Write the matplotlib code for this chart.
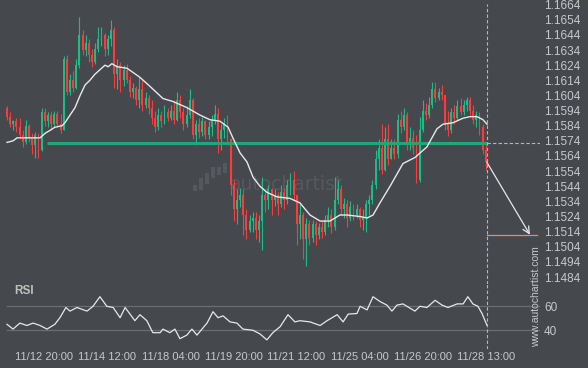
import matplotlib
matplotlib.use("Agg")
import matplotlib.pyplot as plt
from matplotlib.patches import Rectangle
import numpy as np

plt.rcParams['font.family'] = ['Liberation Sans', 'DejaVu Sans']

# ---------------- data (2-hour candles) ----------------
first_open = 1.1596
closes = [
    1.1590, 1.1585, 1.1587, 1.1583, 1.1578, 1.1573, 1.1584, 1.1576, 1.1571, 1.1578,
    1.1568, 1.1593, 1.1587, 1.1591, 1.1585, 1.1592, 1.1585, 1.1581, 1.1628, 1.1606,
    1.1614, 1.1609, 1.1624, 1.1644, 1.1634, 1.1639, 1.1631, 1.1626, 1.1635, 1.1641,
    1.1644, 1.1635, 1.1641, 1.1647, 1.1618, 1.1624, 1.1614, 1.1621, 1.1614, 1.1606,
    1.1609, 1.1601, 1.1608, 1.1598, 1.1602, 1.1596, 1.1589, 1.1583, 1.1591, 1.1587,
    1.1593, 1.1589, 1.1594, 1.1588, 1.1601, 1.1593, 1.1585, 1.1591, 1.1601, 1.1578,
    1.1585, 1.1580, 1.1587, 1.1578, 1.1583, 1.1588, 1.1592, 1.1575, 1.1581, 1.1585,
    1.1575, 1.1545, 1.1529, 1.1535, 1.1538, 1.1525, 1.1515, 1.1521, 1.1523, 1.1515,
    1.1521, 1.1538, 1.1535, 1.1542, 1.1535, 1.1538, 1.1532, 1.1540, 1.1535, 1.1545,
    1.1548, 1.1538, 1.1519, 1.1525, 1.1509, 1.1519, 1.1510, 1.1519, 1.1512, 1.1517,
    1.1514, 1.1522, 1.1525, 1.1517, 1.1535, 1.1542, 1.1529, 1.1532, 1.1523, 1.1530,
    1.1525, 1.1529, 1.1522, 1.1524, 1.1532, 1.1535, 1.1545, 1.1562, 1.1569, 1.1555,
    1.1575, 1.1562, 1.1569, 1.1565, 1.1588, 1.1583, 1.1591, 1.1571, 1.1576, 1.1569,
    1.1548, 1.1581, 1.1594, 1.1591, 1.1598, 1.1608, 1.1602, 1.1606, 1.1604, 1.1585,
    1.1581, 1.1593, 1.1589, 1.1597, 1.1593, 1.1598, 1.1601, 1.1594, 1.1588, 1.1591,
    1.1583, 1.1568, 1.1560,
]
highs = [
    1.1597, 1.1593, 1.1588, 1.1589, 1.1589, 1.1581, 1.1588, 1.1585, 1.1579, 1.1580,
    1.1579, 1.1596, 1.1596, 1.1593, 1.1594, 1.1594, 1.1594, 1.1592, 1.1630, 1.1631,
    1.1618, 1.1620, 1.1628, 1.1656, 1.1647, 1.1644, 1.1641, 1.1635, 1.1639, 1.1649,
    1.1649, 1.1645, 1.1644, 1.1654, 1.1649, 1.1628, 1.1626, 1.1624, 1.1625, 1.1617,
    1.1612, 1.1610, 1.1616, 1.1614, 1.1606, 1.1604, 1.1601, 1.1594, 1.1596, 1.1594,
    1.1598, 1.1596, 1.1598, 1.1601, 1.1606, 1.1604, 1.1596, 1.1597, 1.1608, 1.1602,
    1.1588, 1.1589, 1.1590, 1.1588, 1.1587, 1.1591, 1.1598, 1.1596, 1.1585, 1.1589,
    1.1591, 1.1576, 1.1548, 1.1542, 1.1543, 1.1542, 1.1529, 1.1525, 1.1527, 1.1527,
    1.1525, 1.1550, 1.1540, 1.1545, 1.1543, 1.1542, 1.1540, 1.1545, 1.1543, 1.1548,
    1.1553, 1.1554, 1.1538, 1.1532, 1.1527, 1.1523, 1.1522, 1.1522, 1.1521, 1.1520,
    1.1522, 1.1525, 1.1530, 1.1529, 1.1550, 1.1548, 1.1545, 1.1536, 1.1535, 1.1534,
    1.1532, 1.1532, 1.1530, 1.1529, 1.1535, 1.1538, 1.1548, 1.1568, 1.1575, 1.1585,
    1.1583, 1.1585, 1.1575, 1.1575, 1.1592, 1.1594, 1.1596, 1.1593, 1.1583, 1.1581,
    1.1578, 1.1590, 1.1601, 1.1599, 1.1603, 1.1613, 1.1613, 1.1609, 1.1611, 1.1604,
    1.1594, 1.1596, 1.1598, 1.1601, 1.1602, 1.1601, 1.1603, 1.1603, 1.1598, 1.1594,
    1.1593, 1.1585, 1.1571,
]
lows = [
    1.1588, 1.1583, 1.1581, 1.1580, 1.1576, 1.1570, 1.1572, 1.1573, 1.1565, 1.1563,
    1.1563, 1.1567, 1.1584, 1.1583, 1.1581, 1.1583, 1.1583, 1.1579, 1.1581, 1.1604,
    1.1604, 1.1606, 1.1608, 1.1622, 1.1631, 1.1630, 1.1626, 1.1623, 1.1625, 1.1633,
    1.1637, 1.1630, 1.1631, 1.1637, 1.1609, 1.1608, 1.1606, 1.1610, 1.1612, 1.1603,
    1.1602, 1.1598, 1.1596, 1.1594, 1.1596, 1.1592, 1.1585, 1.1580, 1.1581, 1.1583,
    1.1585, 1.1587, 1.1588, 1.1585, 1.1587, 1.1589, 1.1581, 1.1583, 1.1589, 1.1575,
    1.1571, 1.1576, 1.1577, 1.1575, 1.1575, 1.1577, 1.1585, 1.1566, 1.1568, 1.1576,
    1.1571, 1.1538, 1.1521, 1.1519, 1.1530, 1.1512, 1.1509, 1.1514, 1.1514, 1.1509,
    1.1507, 1.1502, 1.1527, 1.1529, 1.1525, 1.1531, 1.1525, 1.1530, 1.1529, 1.1532,
    1.1538, 1.1535, 1.1505, 1.1509, 1.1496, 1.1491, 1.1505, 1.1507, 1.1505, 1.1509,
    1.1510, 1.1512, 1.1517, 1.1513, 1.1515, 1.1532, 1.1525, 1.1523, 1.1517, 1.1521,
    1.1522, 1.1523, 1.1517, 1.1515, 1.1514, 1.1525, 1.1532, 1.1542, 1.1555, 1.1552,
    1.1554, 1.1558, 1.1562, 1.1562, 1.1563, 1.1579, 1.1581, 1.1568, 1.1568, 1.1565,
    1.1546, 1.1547, 1.1580, 1.1588, 1.1589, 1.1596, 1.1600, 1.1601, 1.1601, 1.1581,
    1.1577, 1.1579, 1.1585, 1.1588, 1.1591, 1.1591, 1.1594, 1.1591, 1.1585, 1.1583,
    1.1578, 1.1565, 1.1555,
]

# moving average (bar position, value)
ma_bars = [0, 1.9, 3.2, 6.3, 8.3, 10.5, 12.1, 13.7, 15.2, 17.5, 18.4, 20.0, 21.6, 23.2,
           24.8, 26.3, 27.9, 29.5, 31.1, 32.1, 33.3, 34.9, 38.1, 42.2, 45.4, 49.5, 52.7,
           57.1, 61.3, 64.4, 67.6, 70.2, 71.7, 74.0, 76.2, 78.1, 80.3, 82.5, 85.7, 89.8,
           93.0, 96.2, 99.4, 102.5, 105.7, 107.9, 112.1, 114.3, 116.2, 118.4, 121.6,
           125.7, 129.5, 133.3, 136.5, 138.4, 141.6, 144.8, 147.0, 149.2, 151.1, 152.4]
ma_vals = [1.1573, 1.1574, 1.1576, 1.1576, 1.1576, 1.1576, 1.1579, 1.1581, 1.1583, 1.1584,
           1.1586, 1.1591, 1.1596, 1.1604, 1.1611, 1.1614, 1.1618, 1.1621, 1.1624, 1.1623,
           1.1625, 1.1623, 1.1622, 1.1616, 1.1610, 1.1602, 1.1600, 1.1596, 1.1591, 1.1588,
           1.1587, 1.1583, 1.1576, 1.1566, 1.1560, 1.1550, 1.1544, 1.1540, 1.1537, 1.1536,
           1.1533, 1.1525, 1.1521, 1.1521, 1.1525, 1.1525, 1.1524, 1.1523, 1.1525, 1.1533,
           1.1544, 1.1559, 1.1563, 1.1570, 1.1582, 1.1585, 1.1586, 1.1589, 1.1590, 1.1590,
           1.1588, 1.1585]

# RSI (bar position, value)
rsi_bars = [0, 1.9, 4.1, 6.3, 8.3, 10.5, 12.7, 15.2, 16.8, 18.7, 20.0, 22.2, 25.4, 27.3,
            29.5, 31.7, 33.7, 35.9, 37.5, 40.6, 42.2, 44.4, 46.3, 48.6, 49.5, 51.7, 53.3,
            54.9, 57.1, 58.7, 60.3, 61.9, 63.5, 65.4, 67.0, 68.6, 70.8, 73.0, 74.9, 78.1,
            80.3, 82.5, 84.4, 86.7, 89.2, 91.4, 93.0, 96.2, 99.4, 101.6, 104.8, 106.7,
            108.3, 111.1, 112.1, 114.3, 116.2, 118.4, 120.6, 122.2, 123.8, 125.7, 129.5,
            131.1, 133.3, 135.9, 138.1, 140.0, 142.9, 144.8, 146.3, 147.9, 149.5, 150.8,
            152.4]
rsi_vals = [45, 41, 46, 44, 46, 44, 41, 45, 50.5, 59, 56, 59, 56, 60, 68, 60, 59, 50.5,
            59, 48, 53, 48, 38, 38, 41, 38, 41, 33, 36, 41, 36, 41, 46, 55.5, 50.5, 52,
            47, 46, 41, 40, 37, 32, 38, 43, 53, 47, 48, 47, 44, 48, 53, 47, 53.5, 54, 60,
            57, 68, 64, 61, 56, 61, 62, 56, 60, 59, 65, 61, 59, 62, 62, 68, 62, 60, 54, 44]

tick_bars = [11.8, 31.9, 52.0, 72.1, 91.9, 111.9, 132.0, 152.1]
tick_labels = ["11/12 20:00", "11/14 12:00", "11/18 04:00", "11/19 20:00",
               "11/21 12:00", "11/25 04:00", "11/26 20:00", "11/28 13:00"]
price_ticks = [1.1484, 1.1494, 1.1504, 1.1514, 1.1524, 1.1534, 1.1544, 1.1554, 1.1564,
               1.1574, 1.1584, 1.1594, 1.1604, 1.1614, 1.1624, 1.1634, 1.1644, 1.1654,
               1.1664]
rsi_ticks = [40, 60]

level = 1.15725          # broken support level
level_start_bar = 12.7
now_bar = 152.3          # current time marker
target = 1.1512          # forecast target
arrow_end_bar = 166.0
target_end_bar = 168.3

# ---------------- styling ----------------
BG = '#45484d'
GREEN = '#19bd86'
RED = '#ff3a3a'
TXT = '#c8c8c8'
W, H = 588, 368

fig = plt.figure(figsize=(W / 100, H / 100), dpi=100, facecolor=BG)

def fx(px):
    return px / W

def fy(py):
    return 1 - py / H

ax = fig.add_axes([0, fy(284), fx(540), 284 / H])
rx = fig.add_axes([0, fy(349), fx(540), 65 / H])
for a in (ax, rx):
    a.set_facecolor(BG)
    for s in a.spines.values():
        s.set_visible(False)
    a.set_xlim(-7 / 3.15, (540 - 7) / 3.15)

ax.set_ylim(1.14794, 1.16671)
rx.set_ylim(24.4, 78.6)

# watermark (logo + text)
for (x0, top, bot) in [(193, 185, 191), (199, 178, 190), (205, 173, 184),
                       (211, 167, 178), (217, 167, 175), (223, 163, 173)]:
    ax.add_patch(Rectangle((fx(x0), fy(bot)), fx(4), (bot - top) / H,
                           transform=fig.transFigure, color='#55585d',
                           zorder=0, clip_on=False, lw=0))
ax.text(fx(230), fy(185), 'autochartist', transform=fig.transFigure,
        color='#55585d', fontsize=13.5, family='DejaVu Sans', ha='left',
        va='center', zorder=0)

# candles
c = np.array(closes)
o = np.array([first_open] + closes[:-1])
hi = np.array(highs)
lo = np.array(lows)
idx = np.arange(len(c))
cols = np.where(c >= o, GREEN, RED)
ax.vlines(idx, lo, hi, colors=cols, lw=0.8, zorder=2)
ax.bar(idx, np.maximum(np.abs(c - o), 0.00004), bottom=np.minimum(o, c), width=0.62,
       color=cols, linewidth=0, zorder=3)

# moving average
ax.plot(ma_bars, ma_vals, color='#e8e8e8', lw=1.0, zorder=4)

# support level
ax.plot([level_start_bar, now_bar], [level, level], color='#23a579', lw=2.2,
        solid_capstyle='butt', zorder=3.5)
ax.plot([now_bar, ax.get_xlim()[1]], [level, level], color='#b8b8b8', lw=0.8,
        ls=(0, (3, 2)), zorder=3.5)

# current-time marker
ax.axvline(now_bar, ymin=0, ymax=1 - 4 / 284, color='#b8b8b8', lw=0.8,
           ls=(0, (3, 2)), zorder=3.5)
rx.axvline(now_bar, color='#b8b8b8', lw=0.8, ls=(0, (3, 2)), zorder=3.5)

# forecast arrow + target
ax.plot([now_bar, target_end_bar], [target, target], color='#f08a4e', lw=0.9, zorder=4)
ax.annotate('', xy=(arrow_end_bar, target), xytext=(now_bar, closes[-1]),
            arrowprops=dict(arrowstyle='->', color='#e8e8e8', lw=0.9,
                            mutation_scale=12, shrinkA=0, shrinkB=0), zorder=5)

# price axis
ax.yaxis.tick_right()
ax.set_yticks(price_ticks)
ax.set_yticklabels([f'{v:.4f}' for v in price_ticks])
ax.tick_params(axis='y', length=0, pad=3, labelsize=8.5, labelcolor=TXT)
ax.set_xticks([])

# RSI panel
for lv in rsi_ticks:
    rx.axhline(lv, xmin=7 / 540, xmax=1, color='#6a6d72', lw=0.9, zorder=1)
rx.plot(rsi_bars, rsi_vals, color='#e8e8e8', lw=0.9, zorder=3)
rx.yaxis.tick_right()
rx.set_yticks(rsi_ticks)
rx.set_yticklabels([str(v) for v in rsi_ticks])
rx.tick_params(axis='y', length=0, pad=3, labelsize=8.5, labelcolor=TXT)
rx.set_xticks(tick_bars)
rx.set_xticklabels(tick_labels)
rx.tick_params(axis='x', length=0, pad=2.5, labelsize=8, labelcolor=TXT)

fig.text(fx(14), fy(291), 'RSI', color='#c0c0c0', fontsize=8.5, fontweight='bold',
         ha='left', va='center')
fig.text(fx(536), fy(297), 'www.autochartist.com', color=TXT, fontsize=7.5,
         rotation=90, ha='center', va='center')

fig.savefig('out.png', dpi=100, facecolor=BG)
